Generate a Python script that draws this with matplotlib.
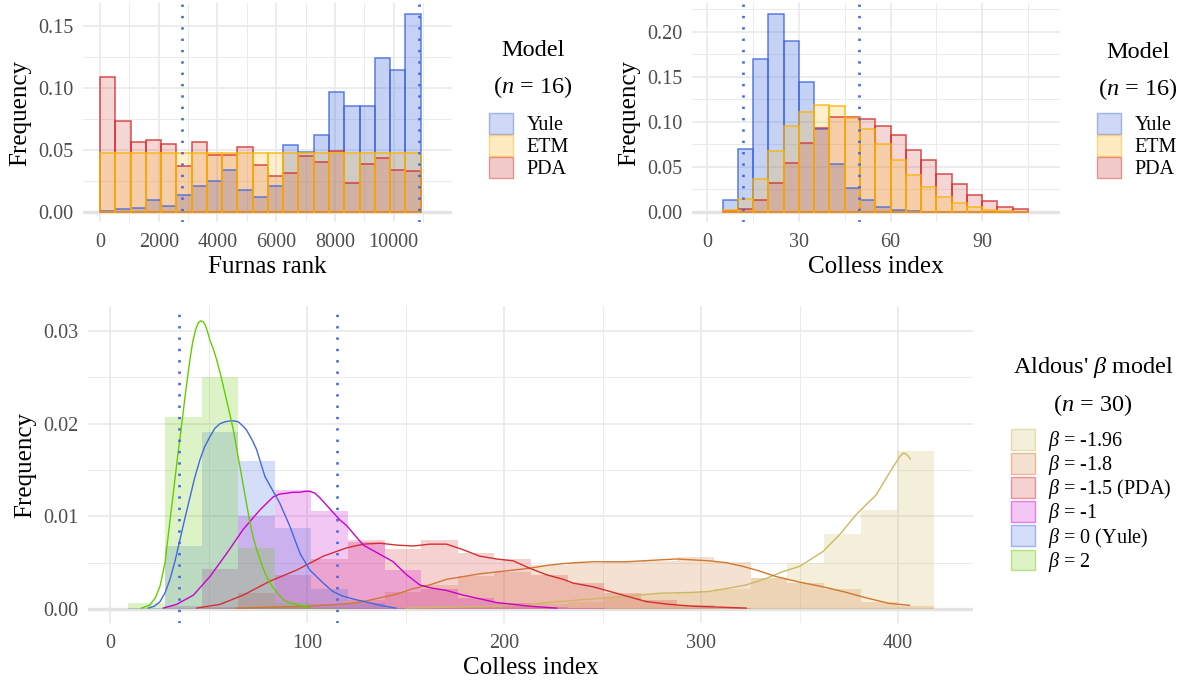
import numpy as np
import matplotlib
matplotlib.use("Agg")
import matplotlib.pyplot as plt
from matplotlib.patches import Patch
from matplotlib.ticker import MultipleLocator, FormatStrFormatter

plt.rcParams['font.family'] = ['Liberation Serif', 'DejaVu Serif']
plt.rcParams['mathtext.fontset'] = 'custom'
plt.rcParams['mathtext.rm'] = 'Liberation Serif'
plt.rcParams['mathtext.it'] = 'Liberation Serif:italic'

# ---------------- data: top-left (Furnas rank, n = 16) ----------------
furnas_start = 0
furnas_width = 520
yule_furnas = [0.0003, 0.002, 0.003, 0.0097, 0.0043, 0.0135, 0.021, 0.025, 0.034, 0.0175, 0.012,
               0.021, 0.0536, 0.0482, 0.062, 0.0964, 0.085, 0.085, 0.124, 0.1145, 0.160]
etm_furnas = [0.0476] * 21
pda_furnas = [0.109, 0.073, 0.056, 0.058, 0.055, 0.037, 0.0566, 0.046, 0.046, 0.052, 0.038,
              0.029, 0.031, 0.045, 0.040, 0.049, 0.023, 0.0385, 0.043, 0.034, 0.033]
furnas_vlines = [2785, 10850]

# ---------------- data: top-right (Colless index, n = 16) ----------------
colless16_start = 5
colless16_width = 5
yule_colless = [0.013, 0.070, 0.1696, 0.220, 0.1896, 0.144, 0.092, 0.053, 0.026, 0.0126,
                0.005, 0.002, 0.0005, 0, 0, 0, 0, 0, 0, 0]
etm_colless = [0.002, 0.014, 0.0367, 0.068, 0.095, 0.111, 0.119, 0.118, 0.1044, 0.092,
               0.0756, 0.0574, 0.041, 0.028, 0.016, 0.0093, 0.0048, 0.0015, 0.0003, 0]
pda_colless = [0.0003, 0.0026, 0.0126, 0.032, 0.054, 0.076, 0.093, 0.1056, 0.105, 0.103,
               0.0948, 0.0856, 0.069, 0.057, 0.0415, 0.031, 0.0185, 0.0115, 0.0048, 0.0026]
colless16_vlines = [11.7, 49.6]

# ---------------- data: bottom (Colless index, n = 30, Aldous' beta) ----------------
colless30_start = 9.3
colless30_width = 18.58
beta_labels = ["$\\beta$ = -1.96", "$\\beta$ = -1.8", "$\\beta$ = -1.5 (PDA)",
               "$\\beta$ = -1", "$\\beta$ = 0 (Yule)", "$\\beta$ = 2"]
hist_b196 = [0, 0, 0, 0, 0, 0, 0, 0, 0.0001, 0.0002, 0.0003, 0.0005, 0.0008, 0.0013, 0.0016,
             0.0018, 0.0022, 0.0034, 0.0050, 0.0081, 0.0107, 0.0170]
hist_b18 = [0, 0, 0, 0.0001, 0.0003, 0.0005, 0.0010, 0.0018, 0.0026, 0.0036, 0.0040, 0.0048,
            0.0050, 0.0051, 0.0052, 0.0056, 0.0051, 0.0034, 0.0028, 0.0022, 0.0008, 0.0003]
hist_b15 = [0, 0, 0.0002, 0.0017, 0.0037, 0.0054, 0.0075, 0.0065, 0.0074, 0.0060, 0.0054,
            0.0037, 0.0028, 0.0017, 0.0010, 0.0004, 0.0001, 0, 0, 0, 0, 0]
hist_b1 = [0, 0.0003, 0.0043, 0.0100, 0.0128, 0.0106, 0.0072, 0.0042, 0.0022, 0.0012, 0.0006,
           0.0002, 0.0001, 0, 0, 0, 0, 0, 0, 0, 0, 0]
hist_b0 = [0.0001, 0.0068, 0.0191, 0.0160, 0.0087, 0.0022, 0.0007, 0.0001, 0, 0, 0, 0, 0, 0,
           0, 0, 0, 0, 0, 0, 0, 0]
hist_b2 = [0.0006, 0.0207, 0.0250, 0.0066, 0.0006, 0.0001, 0, 0, 0, 0, 0, 0, 0, 0, 0, 0, 0,
           0, 0, 0, 0, 0]

dens_b196_x = [150, 170.8, 196.1, 213, 228.2, 245.1, 262, 279, 295.8, 304.3, 312.7, 322.9, 333,
               341, 350, 361.8, 370.2, 378.7, 388.8, 395.6, 399.8, 401, 402.4, 403.3, 404.1,
               405.2, 406.1]
dens_b196_y = [0.0001, 0.0002, 0.0003, 0.0005, 0.0008, 0.0011, 0.0014, 0.0017, 0.0018, 0.0019,
               0.0022, 0.0026, 0.0033, 0.0040, 0.0046, 0.0062, 0.0080, 0.0102, 0.0123, 0.0147,
               0.0161, 0.0165, 0.0168, 0.0168, 0.0167, 0.0165, 0.0162]
dens_b18_x = [64, 101, 121.7, 128.5, 137, 145.4, 153.9, 162.3, 170.8, 179.2, 187.7, 196.1, 204.6,
              213, 221.5, 230, 236.7, 245.1, 262, 270.5, 279, 287.4, 295.8, 304.3, 312.7, 321.2,
              329.6, 338.1, 350, 361.8, 373.6, 383.8, 395.6, 405.7]
dens_b18_y = [0.0001, 0.0003, 0.0006, 0.0008, 0.0012, 0.0016, 0.0022, 0.0026, 0.0032, 0.0035,
              0.0038, 0.0040, 0.0042, 0.0044, 0.0047, 0.0049, 0.0050, 0.0051, 0.0051, 0.0052,
              0.0053, 0.0054, 0.0053, 0.0052, 0.0050, 0.0046, 0.0041, 0.0035, 0.0029, 0.0024,
              0.0018, 0.0012, 0.0006, 0.0004]
dens_b15_x = [44, 55.8, 67.6, 81.1, 94.7, 108.2, 120.1, 128.5, 137, 145.4, 153.9, 162.3, 170.8,
              179.2, 187.7, 196.1, 204.6, 213, 221.5, 230, 235, 245.1, 251.9, 262, 272.2, 284,
              295.8, 309.4, 322.9]
dens_b15_y = [0.0001, 0.0005, 0.0015, 0.0030, 0.0042, 0.0057, 0.0066, 0.0070, 0.0071, 0.0069,
              0.0068, 0.0070, 0.0070, 0.0064, 0.0057, 0.0054, 0.0052, 0.0044, 0.0037, 0.0032,
              0.0028, 0.0024, 0.0020, 0.0014, 0.0008, 0.0005, 0.0003, 0.0002, 0.0001]
dens_b1_x = [27, 33.8, 42.3, 50.7, 59.2, 67.6, 76.1, 82.8, 86, 89.6, 93, 96.4, 99, 101.4, 104,
             106.5, 111.6, 116.7, 120.1, 128.5, 137, 143.7, 150.5, 157.2, 162.3, 170.8, 179.2,
             187.7, 196.1, 204.6, 213, 226.6]
dens_b1_y = [0.0001, 0.0005, 0.0015, 0.0035, 0.0060, 0.0086, 0.0107, 0.0121, 0.0124, 0.0125,
             0.0126, 0.0126, 0.0127, 0.0127, 0.0125, 0.0120, 0.0108, 0.0096, 0.0090, 0.0069,
             0.0059, 0.0051, 0.0037, 0.0026, 0.0023, 0.0020, 0.0015, 0.0011, 0.0007, 0.0005,
             0.0003, 0.0001]
dens_b0_x = [19.4, 22.5, 25.4, 28, 30.4, 33, 35.5, 38, 40.6, 43, 45.6, 48, 50.7, 53.2, 55.8,
             58.3, 60.9, 63, 65.1, 67.2, 69.3, 72, 74.4, 78.6, 82.8, 86.2, 91.3, 96.4, 101.4,
             108.2, 113, 118, 123, 129, 137, 145]
dens_b0_y = [0.0001, 0.0003, 0.0008, 0.0018, 0.0032, 0.0052, 0.0075, 0.0098, 0.0121, 0.0142,
             0.0161, 0.0175, 0.0186, 0.0195, 0.0200, 0.0202, 0.0203, 0.0203, 0.0202, 0.0198,
             0.0193, 0.0183, 0.0172, 0.0143, 0.0127, 0.0114, 0.0089, 0.0060, 0.0042, 0.0028,
             0.0019, 0.0014, 0.0011, 0.0008, 0.0004, 0.0001]
dens_b2_x = [16, 20, 23, 25.4, 27.9, 30, 32.1, 34.2, 36.3, 38.4, 40.6, 42, 43.5, 44.8, 46, 47.2,
             48.2, 49.5, 50.7, 52.5, 54.1, 56.2, 58.3, 60.5, 62.6, 64.7, 66.8, 69, 71, 72.7,
             74.4, 76.5, 78.6, 80.7, 82.8, 85.4, 87.9, 91, 94.7, 98, 101.4]
dens_b2_y = [0.0001, 0.0004, 0.0012, 0.0025, 0.0050, 0.0088, 0.0125, 0.0163, 0.0198, 0.0235,
             0.0270, 0.0289, 0.0302, 0.0309, 0.0311, 0.0310, 0.0307, 0.0299, 0.0290, 0.0280,
             0.0269, 0.0252, 0.0233, 0.0213, 0.0193, 0.0168, 0.0143, 0.0117, 0.0093, 0.0077,
             0.0064, 0.0051, 0.0039, 0.0030, 0.0023, 0.0016, 0.0010, 0.0007, 0.0005, 0.0003,
             0.0001]
colless30_vlines = [35, 115]

# ---------------- colours ----------------
yule_c, etm_c, pda_c = '#4169E1', '#FFB300', '#D32F2F'
beta_colors = ['#CDB85F', '#D2772E', '#D32F2F', '#CC00CC', '#4169E1', '#66CC00']
grid_c = '#EBEBEB'
tick_c = '#4D4D4D'
dot_c = '#4169E1'
dot_style = dict(color=dot_c, lw=1.9, ls=(0, (0.9, 3.4)), zorder=4)

W, H = 1187, 681
fig = plt.figure(figsize=(W / 100, H / 100), dpi=100)
ax1 = fig.add_axes([83 / W, 1 - 222 / H, 369 / W, 219 / H])
ax2 = fig.add_axes([692 / W, 1 - 222 / H, 368 / W, 219 / H])
ax3 = fig.add_axes([88 / W, 1 - 623 / H, 885 / W, 317 / H])


def style(ax, xmaj, ymaj, xfmt, yfmt):
    for s in ax.spines.values():
        s.set_visible(False)
    ax.xaxis.set_major_locator(MultipleLocator(xmaj))
    ax.xaxis.set_minor_locator(MultipleLocator(xmaj / 2))
    ax.yaxis.set_major_locator(MultipleLocator(ymaj))
    ax.yaxis.set_minor_locator(MultipleLocator(ymaj / 2))
    ax.xaxis.set_major_formatter(FormatStrFormatter(xfmt))
    ax.yaxis.set_major_formatter(FormatStrFormatter(yfmt))
    ax.grid(which='major', color=grid_c, lw=1.3)
    ax.grid(which='minor', color=grid_c, lw=0.7)
    ax.set_axisbelow(True)
    ax.tick_params(which='both', length=0, labelsize=14.5, labelcolor=tick_c)
    ax.tick_params(axis='x', pad=8)
    ax.tick_params(axis='y', pad=7)
    ax.axhline(0, color='#E3E3E3', lw=2.4, zorder=0.6)
    ax.set_ylabel('Frequency', fontsize=18, labelpad=5)


def outlined_hist(ax, start, width, values, color, falpha):
    edges = start + width * np.arange(len(values))
    ax.bar(edges, values, width=width, align='edge', color=color, alpha=falpha,
           lw=0, zorder=2)
    ax.bar(edges, values, width=width, align='edge', fill=False, edgecolor=color,
           lw=1.1, alpha=0.85, zorder=3)


# top-left
outlined_hist(ax1, furnas_start, furnas_width, yule_furnas, yule_c, 0.3)
outlined_hist(ax1, furnas_start, furnas_width, pda_furnas, pda_c, 0.2)
outlined_hist(ax1, furnas_start, furnas_width, etm_furnas, etm_c, 0.2)
for v in furnas_vlines:
    ax1.axvline(v, **dot_style)
ax1.set_xlim(-580, 11990)
ax1.set_ylim(-0.0083, 0.1686)
style(ax1, 2000, 0.05, '%d', '%.2f')
ax1.set_xlabel('Furnas rank', fontsize=18, labelpad=3)

# top-right
outlined_hist(ax2, colless16_start, colless16_width, yule_colless, yule_c, 0.3)
outlined_hist(ax2, colless16_start, colless16_width, pda_colless, pda_c, 0.2)
outlined_hist(ax2, colless16_start, colless16_width, etm_colless, etm_c, 0.2)
for v in colless16_vlines:
    ax2.axvline(v, **dot_style)
ax2.set_xlim(-5.0, 115.5)
ax2.set_ylim(-0.0114, 0.2319)
style(ax2, 30, 0.05, '%d', '%.2f')
ax2.set_xlabel('Colless index', fontsize=18, labelpad=3)

# bottom
hists = [hist_b196, hist_b18, hist_b15, hist_b1, hist_b0, hist_b2]
dens = [(dens_b196_x, dens_b196_y), (dens_b18_x, dens_b18_y), (dens_b15_x, dens_b15_y),
        (dens_b1_x, dens_b1_y), (dens_b0_x, dens_b0_y), (dens_b2_x, dens_b2_y)]
for vals, col in zip(hists, beta_colors):
    edges = colless30_start + colless30_width * np.arange(len(vals))
    ax3.bar(edges, vals, width=colless30_width, align='edge', color=col, alpha=0.22, lw=0,
            zorder=2)
for (dx, dy), col in zip(dens, beta_colors):
    ax3.plot(dx, dy, color=col, lw=1.0, zorder=3, solid_joinstyle='round')
for v in colless30_vlines:
    ax3.axvline(v, **dot_style)
ax3.set_xlim(-11.2, 438)
ax3.set_ylim(-0.00151, 0.0327)
style(ax3, 100, 0.01, '%d', '%.2f')
ax3.set_xlabel('Colless index', fontsize=18, labelpad=3)

# legends
model_labels = ['Yule', 'ETM', 'PDA']
model_colors = [yule_c, etm_c, pda_c]


def make_handles(colors, falpha):
    return [Patch(facecolor=matplotlib.colors.to_rgba(c, falpha),
                  edgecolor=matplotlib.colors.to_rgba(c, 0.45), lw=1.0) for c in colors]


leg_kw = dict(loc='upper left', frameon=False, borderpad=0, borderaxespad=0,
              handlelength=1.2, handleheight=1.2, labelspacing=0, handletextpad=0.65,
              fontsize=14.5)
for sx, tx, ty in [(489, 533, 50), (1097, 1138, 52)]:
    fig.legend(make_handles(model_colors, 0.25), model_labels,
               bbox_to_anchor=(sx / W, 1 - 113 / H), **leg_kw)
    fig.text(tx / W, 1 - ty / H, 'Model', ha='center', va='center', fontsize=17.5)
    fig.text(tx / W, 1 - (ty + 37) / H, '($n$ = 16)', ha='center', va='center', fontsize=17.5)

fig.legend(make_handles(beta_colors, 0.22), beta_labels,
           bbox_to_anchor=(1011 / W, 1 - 429 / H), **leg_kw)
fig.text(1093 / W, 1 - 368 / H, "Aldous' $\\beta$ model", ha='center', va='center',
         fontsize=17.5)
fig.text(1093 / W, 1 - 405 / H, '($n$ = 30)', ha='center', va='center', fontsize=17.5)

fig.savefig('out.png', dpi=100)
